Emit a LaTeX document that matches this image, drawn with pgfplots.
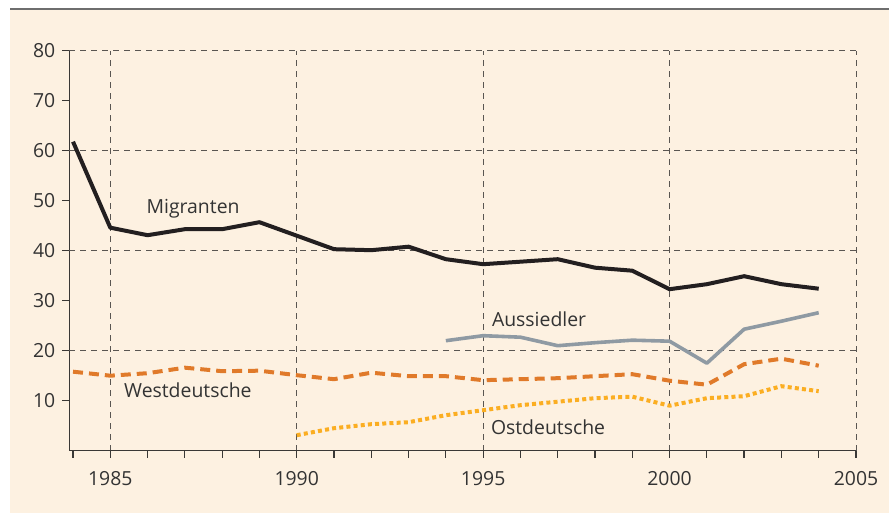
\documentclass[border=0pt]{standalone}
\usepackage{pgfplots}
\pgfplotsset{compat=1.18}
\usepackage{fontspec}
\setmainfont{Open Sans}
\usetikzlibrary{backgrounds}
\definecolor{cream}{HTML}{FDF1E1}
\definecolor{axisgray}{HTML}{3A3836}
\definecolor{gridgray}{HTML}{5A5652}
\definecolor{textgray}{HTML}{333333}
\definecolor{topline}{HTML}{6E6E6E}
\definecolor{migr}{HTML}{231F20}
\definecolor{aussi}{HTML}{8F9AA3}
\definecolor{west}{HTML}{E07A2A}
\definecolor{ost}{HTML}{FBAE22}
\begin{document}
\begin{tikzpicture}
\begin{axis}[
  at={(0,0)}, anchor=south west,
  scale only axis, width=393.35pt, height=200pt,
  xmin=1983.9, xmax=2005, ymin=0, ymax=80,
  axis x line=bottom, axis y line=left,
  axis line style={-, draw=axisgray, line width=0.6pt},
  xtick={1985,1990,...,2005},
  minor xtick={1984,...,2004},
  ytick={10,20,...,80},
  tick align=outside,
  major tick length=3.5pt, minor tick length=3.5pt,
  every tick/.style={draw=axisgray, line width=0.6pt},
  xmajorgrids=true,
  grid style={draw=gridgray, line width=0.5pt, dash pattern=on 3pt off 2.5pt},
  extra y ticks={20,40,60,80},
  extra y tick labels={},
  extra y tick style={grid=major, major tick length=0pt},
  /pgf/number format/assume math mode=true,
  /pgf/number format/1000 sep={},
  tick label style={font=\fontsize{9.7}{11}\selectfont, text=textgray},
  x tick label style={yshift=-3.5pt},
  clip=false,
]
\addplot[migr, line width=2pt, line join=round] coordinates {
(1984,61.8)(1985,44.6)(1986,43.1)(1987,44.3)(1988,44.3)(1989,45.7)(1990,43.0)(1991,40.3)(1992,40.1)(1993,40.8)(1994,38.3)(1995,37.3)(1996,37.8)(1997,38.3)(1998,36.6)(1999,36.0)(2000,32.3)(2001,33.3)(2002,34.9)(2003,33.3)(2004,32.4)};
\addplot[aussi, line width=1.8pt, line join=round] coordinates {
(1994,22.0)(1995,23.0)(1996,22.7)(1997,21.0)(1998,21.6)(1999,22.1)(2000,21.9)(2001,17.5)(2002,24.3)(2003,25.9)(2004,27.6)};
\addplot[west, line width=2pt, dash pattern=on 5pt off 3pt] coordinates {
(1984,15.8)(1985,15.0)(1986,15.5)(1987,16.6)(1988,15.9)(1989,16.0)(1990,15.1)(1991,14.3)(1992,15.6)(1993,14.9)(1994,14.9)(1995,14.1)(1996,14.3)(1997,14.5)(1998,14.9)(1999,15.3)(2000,14.0)(2001,13.2)(2002,17.3)(2003,18.4)(2004,17.0)};
\addplot[ost, line width=2pt, dash pattern=on 2pt off 1.6pt] coordinates {
(1990,3.1)(1991,4.5)(1992,5.3)(1993,5.7)(1994,7.1)(1995,8.1)(1996,9.1)(1997,9.8)(1998,10.5)(1999,10.8)(2000,9.0)(2001,10.5)(2002,10.9)(2003,12.9)(2004,11.9)};
\node[font=\fontsize{9.7}{11}\selectfont, text=textgray] at (axis cs:1987.22,48.3) {Migranten};
\node[font=\fontsize{9.7}{11}\selectfont, text=textgray] at (axis cs:1996.5,26.3) {Aussiedler};
\node[font=\fontsize{9.7}{11}\selectfont, text=textgray] at (axis cs:1987.08,12.0) {Westdeutsche};
\node[font=\fontsize{9.7}{11}\selectfont, text=textgray] at (axis cs:1996.74,4.6) {Ostdeutsche};
\end{axis}
\begin{scope}[on background layer]
\fill[white] (-34.65pt,-31.15pt) rectangle (409.85pt,225.35pt);
\fill[cream] (-29.65pt,-31.15pt) rectangle (409.85pt,220.85pt);
\draw[topline, line width=1pt] (-29.65pt,220.85pt) -- (409.85pt,220.85pt);
\end{scope}
\pgfresetboundingbox
\useasboundingbox (-34.65pt,-31.15pt) rectangle (409.85pt,225.35pt);
\end{tikzpicture}
\end{document}
